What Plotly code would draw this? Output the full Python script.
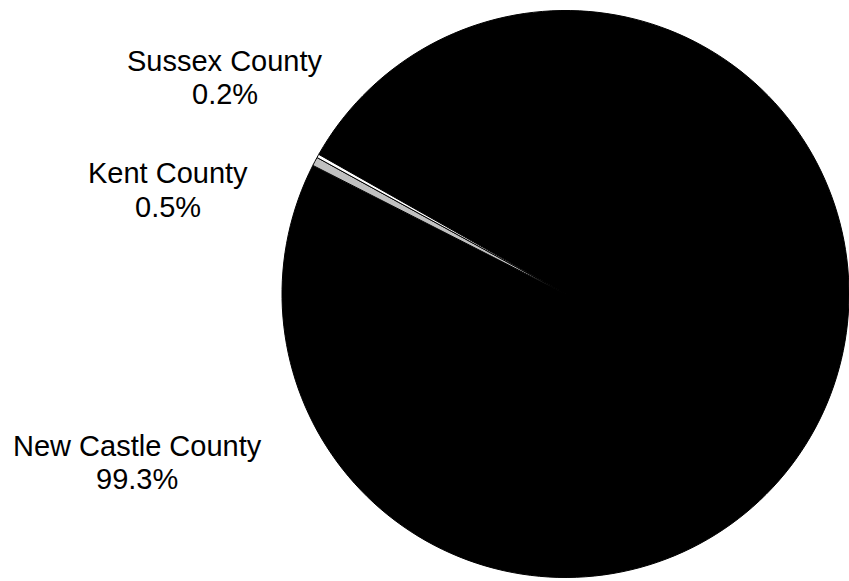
import plotly.graph_objects as go

counties = ["New Castle County", "Kent County", "Sussex County"]
shares = [99.3, 0.5, 0.2]
colors = ["#000000", "#c0c0c0", "#ffffff"]

W, H = 849, 581
# label line centres in pixels (layout only): (x, name y, percent y)
label_pos = {"Sussex County": (225, 61, 94), "Kent County": (168, 173, 207),
             "New Castle County": (137, 446, 479)}

fig = go.Figure(go.Pie(
    labels=counties, values=shares, sort=False, direction="clockwise", rotation=-60.5,
    marker=dict(colors=colors, line=dict(color="#000000", width=1)),
    textinfo="none", hoverinfo="label+percent", showlegend=False,
    domain=dict(x=[282 / W, 1.0], y=[2 / H, 1 - 9 / H]),
))

font = dict(family="Liberation Sans, Arial", size=29, color="#000000")
anns = []
for name, val in zip(counties, shares):
    px, py1, py2 = label_pos[name]
    for txt, py in ((name, py1), (f"{val:.1f}%", py2)):
        anns.append(dict(x=px / W, y=1 - py / H, xref="paper", yref="paper",
                         text=txt, showarrow=False, xanchor="center", yanchor="middle",
                         font=font))

fig.update_layout(width=W, height=H, margin=dict(l=0, r=0, t=0, b=0),
                  paper_bgcolor="#ffffff", plot_bgcolor="#ffffff", annotations=anns)
fig.write_html("out.html")
